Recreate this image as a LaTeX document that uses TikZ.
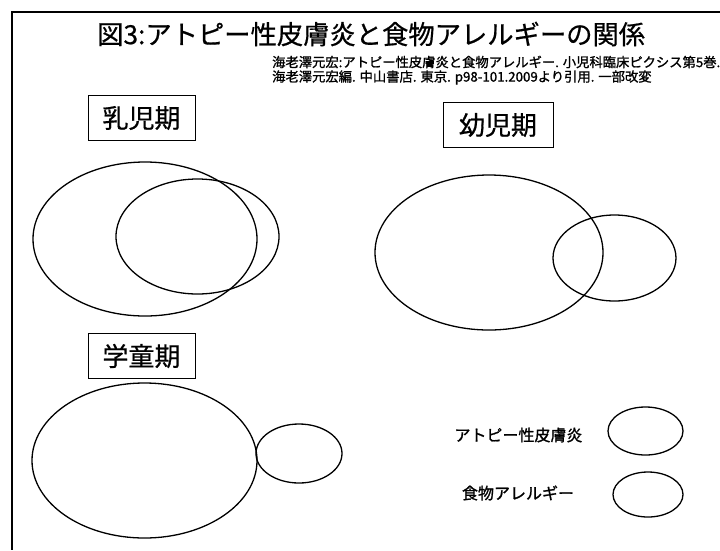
\documentclass[tikz,border=0pt]{standalone}
\usepackage{fontspec}
\newfontfamily\jp{Noto Sans CJK JP}
\newfontfamily\jpb[FakeBold=1.2]{Noto Sans CJK JP}
\newfontfamily\jpm[FakeBold=0.6]{Noto Sans CJK JP}
\begin{document}
\begin{tikzpicture}[x=1pt,y=-1pt,
  venn/.style={draw=black,line width=1.3pt},
  agebox/.style={draw=black,line width=0.9pt,minimum width=107pt,minimum height=45pt,inner sep=0pt,font=\jpm\fontsize{26}{28}\selectfont},
  legendtext/.style={anchor=center,inner sep=0pt,font=\jpb\fontsize{16}{18}\selectfont},
  cite/.style={anchor=west,inner sep=0pt,font=\jpb\fontsize{13.3}{15}\selectfont}]
\useasboundingbox (0,0) rectangle (720,550);
\fill[white] (0,0) rectangle (720,550);
% frame
\coordinate (ftl) at (12,12);
\coordinate (ftr) at (720,12);
\coordinate (fbl) at (12,550);
\draw[line width=1.5pt] (ftr) -- (ftl) -- (fbl);
% title
\node[anchor=west,inner sep=0pt,font=\jpm\fontsize{26.3}{28}\selectfont] (title) at (97,34) {図3:アトピー性皮膚炎と食物アレルギーの関係};
% citation
\node[cite] (cite1) at (272,62) {海老澤元宏:アトピー性皮膚炎と食物アレルギー. 小児科臨床ピクシス第5巻.};
\node[cite] (cite2) at (272,77.5) {海老澤元宏編. 中山書店. 東京. p98-101.2009より引用. 一部改変};
% age boxes
\node[agebox] (b1) at (141.5,118) {乳児期};
\node[agebox,minimum width=110pt] (b2) at (498,125) {幼児期};
\node[agebox] (b3) at (141.5,356) {学童期};
% infancy
\draw[venn] (145,239) ellipse [x radius=112, y radius=77];
\draw[venn] (197.5,236.5) ellipse [x radius=81.5, y radius=57.5];
% early childhood
\draw[venn] (489,252.5) ellipse [x radius=114, y radius=77.5];
\draw[venn] (614.5,258) ellipse [x radius=61.5, y radius=43];
% school age
\draw[venn] (144.5,460.5) ellipse [x radius=112.5, y radius=77.5];
\draw[venn] (299,453.5) ellipse [x radius=43, y radius=29.5];
% legend
\node[legendtext] (l1) at (518.5,435) {アトピー性皮膚炎};
\node[legendtext] (l2) at (518,493) {食物アレルギー};
\draw[venn] (645.5,431) ellipse [x radius=37.5, y radius=24];
\draw[venn] (648,494.5) ellipse [x radius=35, y radius=22.5];
\end{tikzpicture}
\end{document}
